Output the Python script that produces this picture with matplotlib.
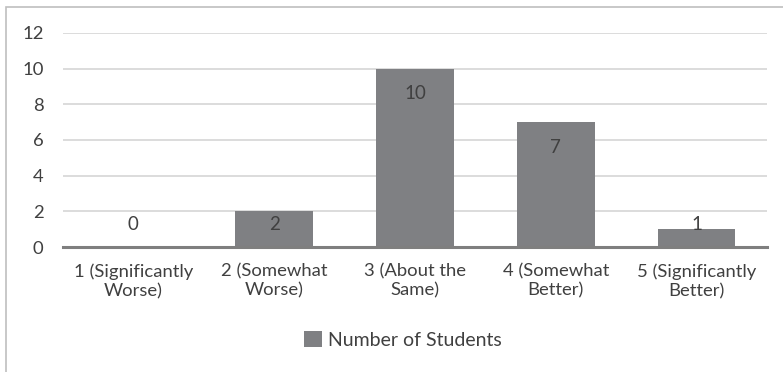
import matplotlib
matplotlib.use('Agg')
import matplotlib.pyplot as plt
from matplotlib.patches import Rectangle, Patch

plt.rcParams.update({
    'font.family': ['Lato', 'DejaVu Sans'],
    'font.size': 13.3,
})

categories = ['1 (Significantly\nWorse)', '2 (Somewhat\nWorse)', '3 (About the\nSame)',
              '4 (Somewhat\nBetter)', '5 (Significantly\nBetter)']
counts = [0, 2, 10, 7, 1]
series_name = 'Number of Students'

BAR_COLOR = '#7f8083'
GRID_COLOR = '#d9d9d9'
TEXT_COLOR = '#404040'

W, H = 783, 372
fig = plt.figure(figsize=(W / 100, H / 100), dpi=100)
ax = fig.add_axes([63 / W, 1 - 247 / H, (767 - 63) / W, (247 - 33) / H])

x = range(len(categories))
ax.bar(x, counts, width=0.55, color=BAR_COLOR, zorder=3)

# data labels sit just inside the top of each bar, kept above the baseline
for xi, v in zip(x, counts):
    ax.text(xi, max(v - 1.4, 1.25), f'{v}', ha='center', va='center',
            fontsize=13.5, color=TEXT_COLOR, zorder=4)

ax.set_xlim(-0.5, len(categories) - 0.5)
ax.set_ylim(0, 12)
ax.set_yticks(range(0, 13, 2))
ax.yaxis.grid(True, color=GRID_COLOR, linewidth=1.3, zorder=0)
ax.set_xticks(list(x))
ax.set_xticklabels(categories, linespacing=1.2)
ax.tick_params(length=0, colors=TEXT_COLOR, labelsize=13.3)
ax.tick_params(axis='x', pad=12)
ax.tick_params(axis='y', pad=14)
for side in ['top', 'right', 'left']:
    ax.spines[side].set_visible(False)
ax.spines['bottom'].set_color('#7f7f7f')
ax.spines['bottom'].set_linewidth(2.2)
ax.spines['bottom'].set_zorder(5)

fig.legend(handles=[Patch(facecolor=BAR_COLOR, label=series_name)],
           loc='center', bbox_to_anchor=(403 / W, 1 - 340 / H), frameon=False,
           handlelength=0.9, handleheight=0.9, handletextpad=0.3,
           fontsize=14, labelcolor=TEXT_COLOR)

# chart area border
fig.patches.append(Rectangle((6 / W, -0.1), 1.2, 1 - 7 / H + 0.1,
                             transform=fig.transFigure, fill=False,
                             edgecolor='#bfbfbf', linewidth=1.2))

fig.savefig('out.png', dpi=100)
